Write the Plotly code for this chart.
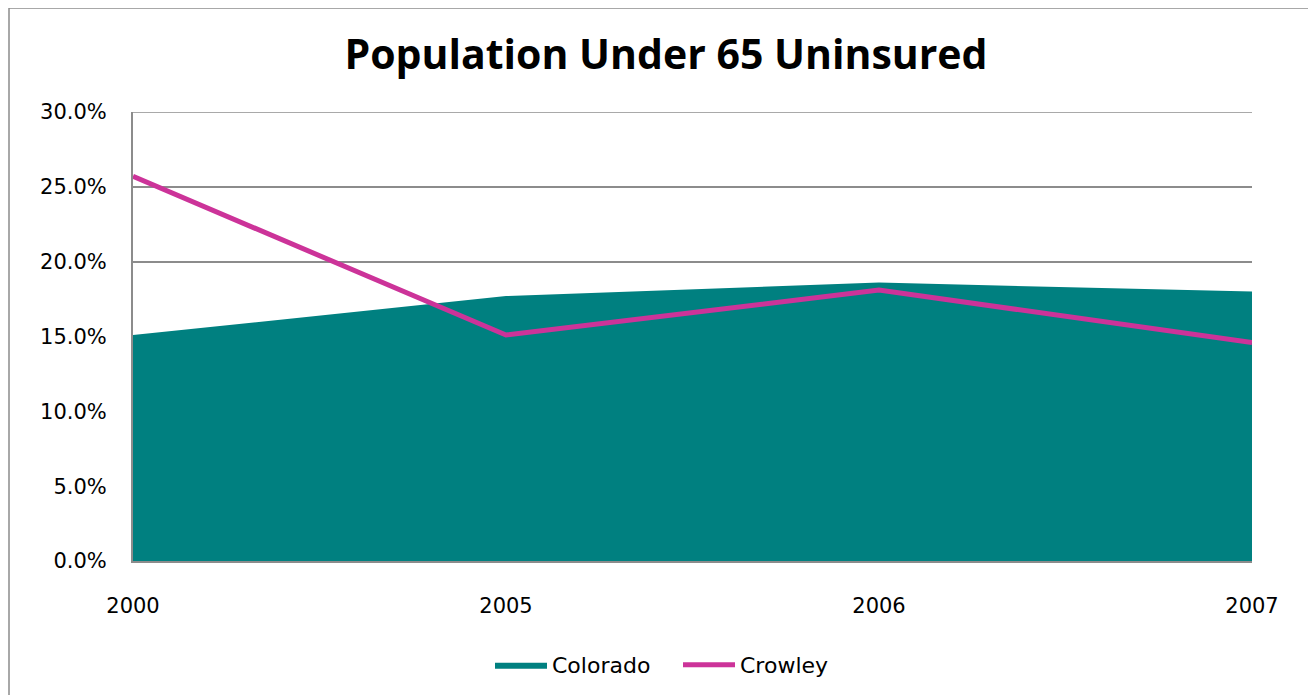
import plotly.graph_objects as go

years = ["2000", "2005", "2006", "2007"]
colorado = [15.1, 17.7, 18.6, 18.0]
crowley = [25.7, 15.1, 18.1, 14.6]
y_ticks = [0, 5, 10, 15, 20, 25, 30]
y_tick_labels = ["0.0%", "5.0%", "10.0%", "15.0%", "20.0%", "25.0%", "30.0%"]

W, H = 1316, 695
OFF = 8  # page body margin offset
L, R, T, B = 133 - OFF, 1252 - OFF, 112 - OFF, 561 - OFF
pw, ph = R - L, B - T

fig = go.Figure()
fig.add_trace(go.Scatter(
    x=years, y=colorado, name="Colorado", mode="lines",
    fill="tozeroy", fillcolor="#008080", line=dict(color="#008080", width=0),
))
fig.add_trace(go.Scatter(
    x=years, y=crowley, name="Crowley", mode="lines",
    line=dict(color="#CC3399", width=5),
))

def px_x(x):
    return (x - OFF - L) / pw

def px_y(y):
    return (B - (y - OFF)) / ph

# outer chart border
fig.add_shape(type="rect", xref="paper", yref="paper",
              x0=px_x(9), x1=px_x(1311), y0=px_y(720), y1=px_y(8),
              line=dict(color="#8C8C8C", width=1.5), fillcolor="rgba(0,0,0,0)", layer="below")
# top gridline at 30%
fig.add_shape(type="line", xref="paper", yref="y", x0=0, x1=1, y0=30, y1=30,
              line=dict(color="#8C8C8C", width=1.5), layer="below")

font_family = "DejaVu Sans"
fig.update_layout(
    width=W, height=H,
    margin=dict(l=L, r=W - R, t=T, b=H - B, pad=0),
    paper_bgcolor="white", plot_bgcolor="white",
    title=dict(text="<b>Population Under 65 Uninsured</b>", x=0.5, xanchor="center",
               y=1 - (55 - OFF) / H, yanchor="middle", yref="container",
               font=dict(family="Open Sans", size=41, color="black")),
    font=dict(family=font_family, size=21, color="black"),
    showlegend=True,
    legend=dict(orientation="h", x=px_x(490), xanchor="left", y=px_y(665), yanchor="middle",
                font=dict(family=font_family, size=22, color="black"),
                itemwidth=52, entrywidth=121, entrywidthmode="pixels",
                traceorder="normal"),
    xaxis=dict(type="category", range=[0, 3], showgrid=False,
               showline=True, linecolor="#8C8C8C", linewidth=2,
               ticks="outside", ticklen=25, tickcolor="rgba(0,0,0,0)",
               tickfont=dict(family=font_family, size=21), fixedrange=True),
    yaxis=dict(range=[0, 30], tickvals=y_ticks, ticktext=y_tick_labels,
               showgrid=True, gridcolor="#8C8C8C", gridwidth=1.5,
               showline=True, linecolor="#8C8C8C", linewidth=2,
               ticks="outside", ticklen=20, tickcolor="rgba(0,0,0,0)",
               tickfont=dict(family=font_family, size=21), zeroline=False),
)

fig.write_html("out.html")
